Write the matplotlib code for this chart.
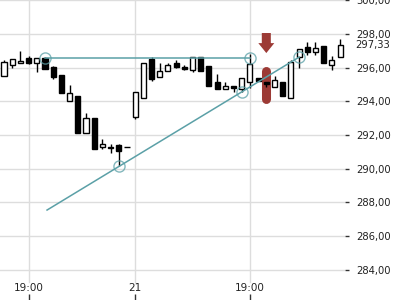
import numpy as np
import matplotlib
matplotlib.use("Agg")
import matplotlib.pyplot as plt
from matplotlib.patches import FancyArrow

# candles (open, high, low, close), one per bar
opens = [295.51, 296.16, 296.28, 296.58, 296.28, 296.58, 296.04, 295.57, 294.02, 294.32,
         292.12, 293.01, 291.29, 291.29, 291.41, 291.30, 293.07, 294.20, 296.52, 295.45,
         295.80, 296.28, 296.04, 295.86, 296.63, 296.10, 295.15, 294.74, 294.91, 294.74,
         295.15, 295.39, 295.15, 294.86, 295.15, 294.20, 296.63, 297.23, 296.93, 297.29,
         296.16, 296.63]
highs = [296.46, 296.52, 296.99, 296.69, 296.58, 296.63, 296.10, 295.57, 294.97, 294.32,
         293.31, 293.01, 291.77, 291.47, 291.47, 291.30, 294.56, 296.28, 296.63, 296.28,
         296.28, 296.46, 296.16, 296.63, 296.63, 296.10, 295.63, 295.15, 294.91, 295.39,
         296.81, 295.39, 295.15, 295.51, 295.15, 296.46, 297.11, 297.53, 297.53, 297.29,
         296.69, 297.70]
lows = [295.51, 295.98, 296.28, 296.22, 295.74, 295.92, 295.33, 294.50, 294.02, 292.12,
        292.12, 291.18, 291.18, 290.94, 290.17, 291.29, 292.96, 294.20, 295.21, 295.45,
        295.80, 295.98, 295.86, 295.74, 295.80, 294.91, 294.74, 294.74, 294.56, 294.56,
        294.80, 295.21, 294.86, 294.86, 294.32, 294.20, 295.98, 296.75, 296.75, 296.28,
        295.86, 296.63]
closes = [296.34, 296.52, 296.40, 296.28, 296.58, 295.92, 295.45, 294.50, 294.50, 292.12,
          293.01, 291.18, 291.47, 291.23, 291.06, 291.29, 294.56, 296.28, 295.33, 295.80,
          296.16, 296.04, 295.92, 296.63, 295.80, 294.91, 294.74, 294.91, 294.80, 295.39,
          296.22, 295.21, 295.03, 295.27, 294.32, 296.34, 297.11, 296.93, 297.17, 296.28,
          296.46, 297.33]

# x axis labels at bar index
date_ticks = [3, 16, 30]
date_labels = ["19:00", "21", "19:00"]

price_ticks = [284, 286, 288, 290, 292, 294, 296, 298, 300]
last_price = 297.33

# drawn resistance / trend lines
resist_x = [5, 30]
resist_y = [296.60, 296.60]
trend_x = [5.25, 36]
trend_y = [287.55, 296.63]
touch_x = [5, 30, 14, 29, 36]
touch_y = [296.60, 296.60, 290.15, 294.56, 296.63]

# sell signal
signal_x = 32
signal_band = [294.17, 295.83]
arrow_top = 298.06

teal = "#5ba0a7"
red = "#9c3a35"

fig = plt.figure(figsize=(4, 3), dpi=100)
ax = fig.add_axes([0, 0, 0.8625, 1])

idx = np.arange(len(opens))
ax.set_xlim(-0.49, 41.6)
ax.set_ylim(282.21, 300.02)

# grid
ax.set_yticks(price_ticks)
ax.yaxis.grid(True, color="#dddddd", lw=1)
for t in date_ticks:
    ax.axvline(t, ymin=0.06, color="#dddddd", lw=1, zorder=0)
ax.set_axisbelow(True)

# signal highlight
ax.plot([signal_x, signal_x], signal_band, color=red, lw=6.5,
        solid_capstyle="round", zorder=1)
ax.add_patch(FancyArrow(signal_x, arrow_top, 0, -1.19, width=1.1,
                        head_width=1.95, head_length=0.59,
                        length_includes_head=True, color=red, lw=0, zorder=1))

# candles
w = 0.62
for i in idx:
    o, h, l, c = opens[i], highs[i], lows[i], closes[i]
    ax.vlines(i, l, h, color="black", lw=1, zorder=3)
    up = c >= o
    ax.bar(i, max(abs(c - o), 0.02), w, bottom=min(o, c),
           color="white" if up else "black", edgecolor="black", lw=1, zorder=4)

# trend lines
ax.plot(resist_x, resist_y, color=teal, lw=1.1, zorder=5)
ax.plot(trend_x, trend_y, color=teal, lw=1.1, zorder=5)
ax.plot(touch_x, touch_y, "o", ms=8, mfc="none", mec=teal, mew=1,
        alpha=0.75, zorder=6)

# axes styling
for s in ax.spines.values():
    s.set_visible(False)
ax.yaxis.tick_right()
ax.set_yticklabels([f"{v:.2f}".replace(".", ",") for v in price_ticks])
ax.tick_params(axis="y", length=3, width=1, color="#333333", pad=5,
               labelsize=7.2, labelcolor="#222222")
ax.set_xticks(date_ticks)
ax.set_xticklabels(date_labels)
ax.tick_params(axis="x", direction="in", length=4, width=1, color="#333333",
               pad=-12.5, labelsize=7.5, labelcolor="#222222")
ax.annotate(f"{last_price:.2f}".replace(".", ","), xy=(1, last_price),
            xycoords=ax.get_yaxis_transform(), xytext=(7.2, 0),
            textcoords="offset points", va="center", ha="left",
            fontsize=7.2, color="#222222", annotation_clip=False)

fig.savefig("out.png", dpi=100)
